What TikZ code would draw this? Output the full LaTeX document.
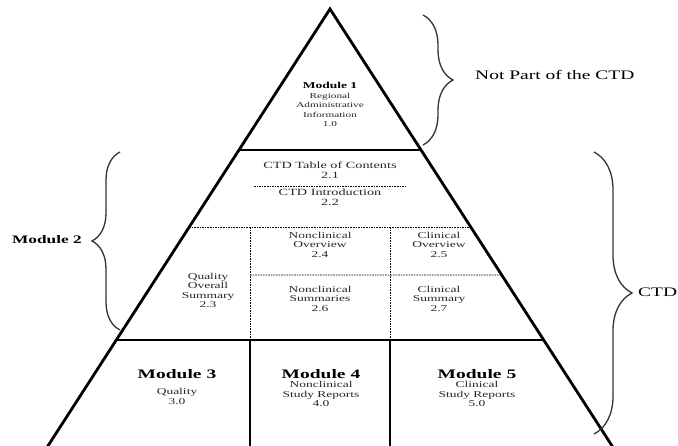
\documentclass[tikz,border=0pt]{standalone}
\usepackage{graphicx}
\usepackage{fontspec}
\setmainfont{Liberation Serif}
\usetikzlibrary{calc,decorations.pathreplacing}
\newcommand\xs[1]{\scalebox{1.5}[1]{\begin{tabular}{@{}c@{}}#1\end{tabular}}}
\begin{document}
\begin{tikzpicture}[x=1pt,y=-1pt,
  edge/.style={line width=2.8pt, line join=miter},
  sline/.style={line width=#1},
  dline/.style={line width=0.9pt, dash pattern=on 1.6pt off 1pt},
  brc/.style={decorate, decoration={brace, amplitude=#1}, line width=1.3pt, draw=black!80},
  txa/.style={inner sep=0pt, text=black!85, font=\fontsize{7.5}{9.3}\selectfont},
  txb/.style={inner sep=0pt, text=black!85, font=\fontsize{9}{9.5}\selectfont},
  txc/.style={inner sep=0pt, text=black!85, font=\fontsize{9.5}{10.5}\selectfont},
  mod/.style={inner sep=0pt, font=\fontsize{#1}{#1}\selectfont\bfseries},
  lab/.style={inner sep=0pt, anchor=west, font=\fontsize{#1}{#1}\selectfont},
]
\useasboundingbox (0,0) rectangle (678,446);
% triangle
\coordinate (A) at (330,9);
\coordinate (L) at (44,452);
\coordinate (R) at (616,452);
\coordinate (L1) at ($(A)!{141/443}!(L)$);
\coordinate (R1) at ($(A)!{141/443}!(R)$);
\coordinate (L2) at ($(A)!{218/443}!(L)$);
\coordinate (R2) at ($(A)!{218/443}!(R)$);
\coordinate (R3) at ($(A)!{266/443}!(R)$);
\coordinate (L4) at ($(A)!{331/443}!(L)$);
\coordinate (R4) at ($(A)!{331/443}!(R)$);
\coordinate (V1t) at (250,227);
\coordinate (V1m) at (250,340);
\coordinate (V1b) at (250,452);
\coordinate (V2t) at (390,227);
\coordinate (V2m) at (390,340);
\coordinate (V2b) at (390,452);
\coordinate (H3) at (250,275);
\coordinate (D1) at (254,186);
\coordinate (D2) at (407,186);

% inner lines
\draw[sline=1.8pt] (L1) -- (R1);
\draw[sline=1.5pt] (L4) -- (R4);
\draw[dline] (L2) -- (R2);
\draw[dline] (H3) -- (R3);
\draw[dline] (D1) -- (D2);
\draw[dline] (V1t) -- (V1m);
\draw[dline] (V2t) -- (V2m);
\draw[sline=1.2pt] (V1m) -- (V1b);
\draw[sline=1.2pt] (V2m) -- (V2b);
\draw[edge] (L) -- (A) -- (R);

% texts
\node[mod=9] (m1) at (330,87) {\xs{Module 1}};
\node[txa] (m1t) at (330,110.5) {\xs{Regional\\Administrative\\Information\\1.0}};
\node[txc] (t21) at (330,171.5) {\xs{CTD Table of Contents\\2.1}};
\node[txc] (t22) at (330,198.5) {\xs{CTD Introduction\\2.2}};
\node[txb] (t24) at (320,246) {\xs{Nonclinical\\Overview\\2.4}};
\node[txb] (t25) at (439,246) {\xs{Clinical\\Overview\\2.5}};
\node[txb] (t23) at (208,291.5) {\xs{Quality\\Overall\\Summary\\2.3}};
\node[txb] (t26) at (320,300) {\xs{Nonclinical\\Summaries\\2.6}};
\node[txb] (t27) at (439,300) {\xs{Clinical\\Summary\\2.7}};

\node[mod=13] (m3) at (177,375.5) {\xs{Module 3}};
\node[txb] (m3t) at (177,398) {\xs{Quality\\[0.5pt]3.0}};
\node[mod=13] (m4) at (321,375.5) {\xs{Module 4}};
\node[txb] (m4t) at (321,395.5) {\xs{Nonclinical\\Study Reports\\4.0}};
\node[mod=13] (m5) at (477,375.5) {\xs{Module 5}};
\node[txb] (m5t) at (477,395.5) {\xs{Clinical\\Study Reports\\5.0}};

% braces
\coordinate (B1a) at (423,15);
\coordinate (B1b) at (423,145);
\coordinate (B2a) at (120,330);
\coordinate (B2b) at (120,152);
\coordinate (B3a) at (594,152);
\coordinate (B3b) at (594,434);
\draw[brc=30] (B1a) -- (B1b);
\draw[brc=28] (B2a) -- (B2b);
\draw[brc=38] (B3a) -- (B3b);

\node[lab=13] (np) at (475,77) {\xs{Not Part of the CTD}};
\node[lab=13] (ctd) at (638,294) {\xs{CTD}};
\node[lab=11.5, font=\fontsize{11.5}{11.5}\selectfont\bfseries] (m2) at (12,241) {\xs{Module 2}};
\end{tikzpicture}
\end{document}
